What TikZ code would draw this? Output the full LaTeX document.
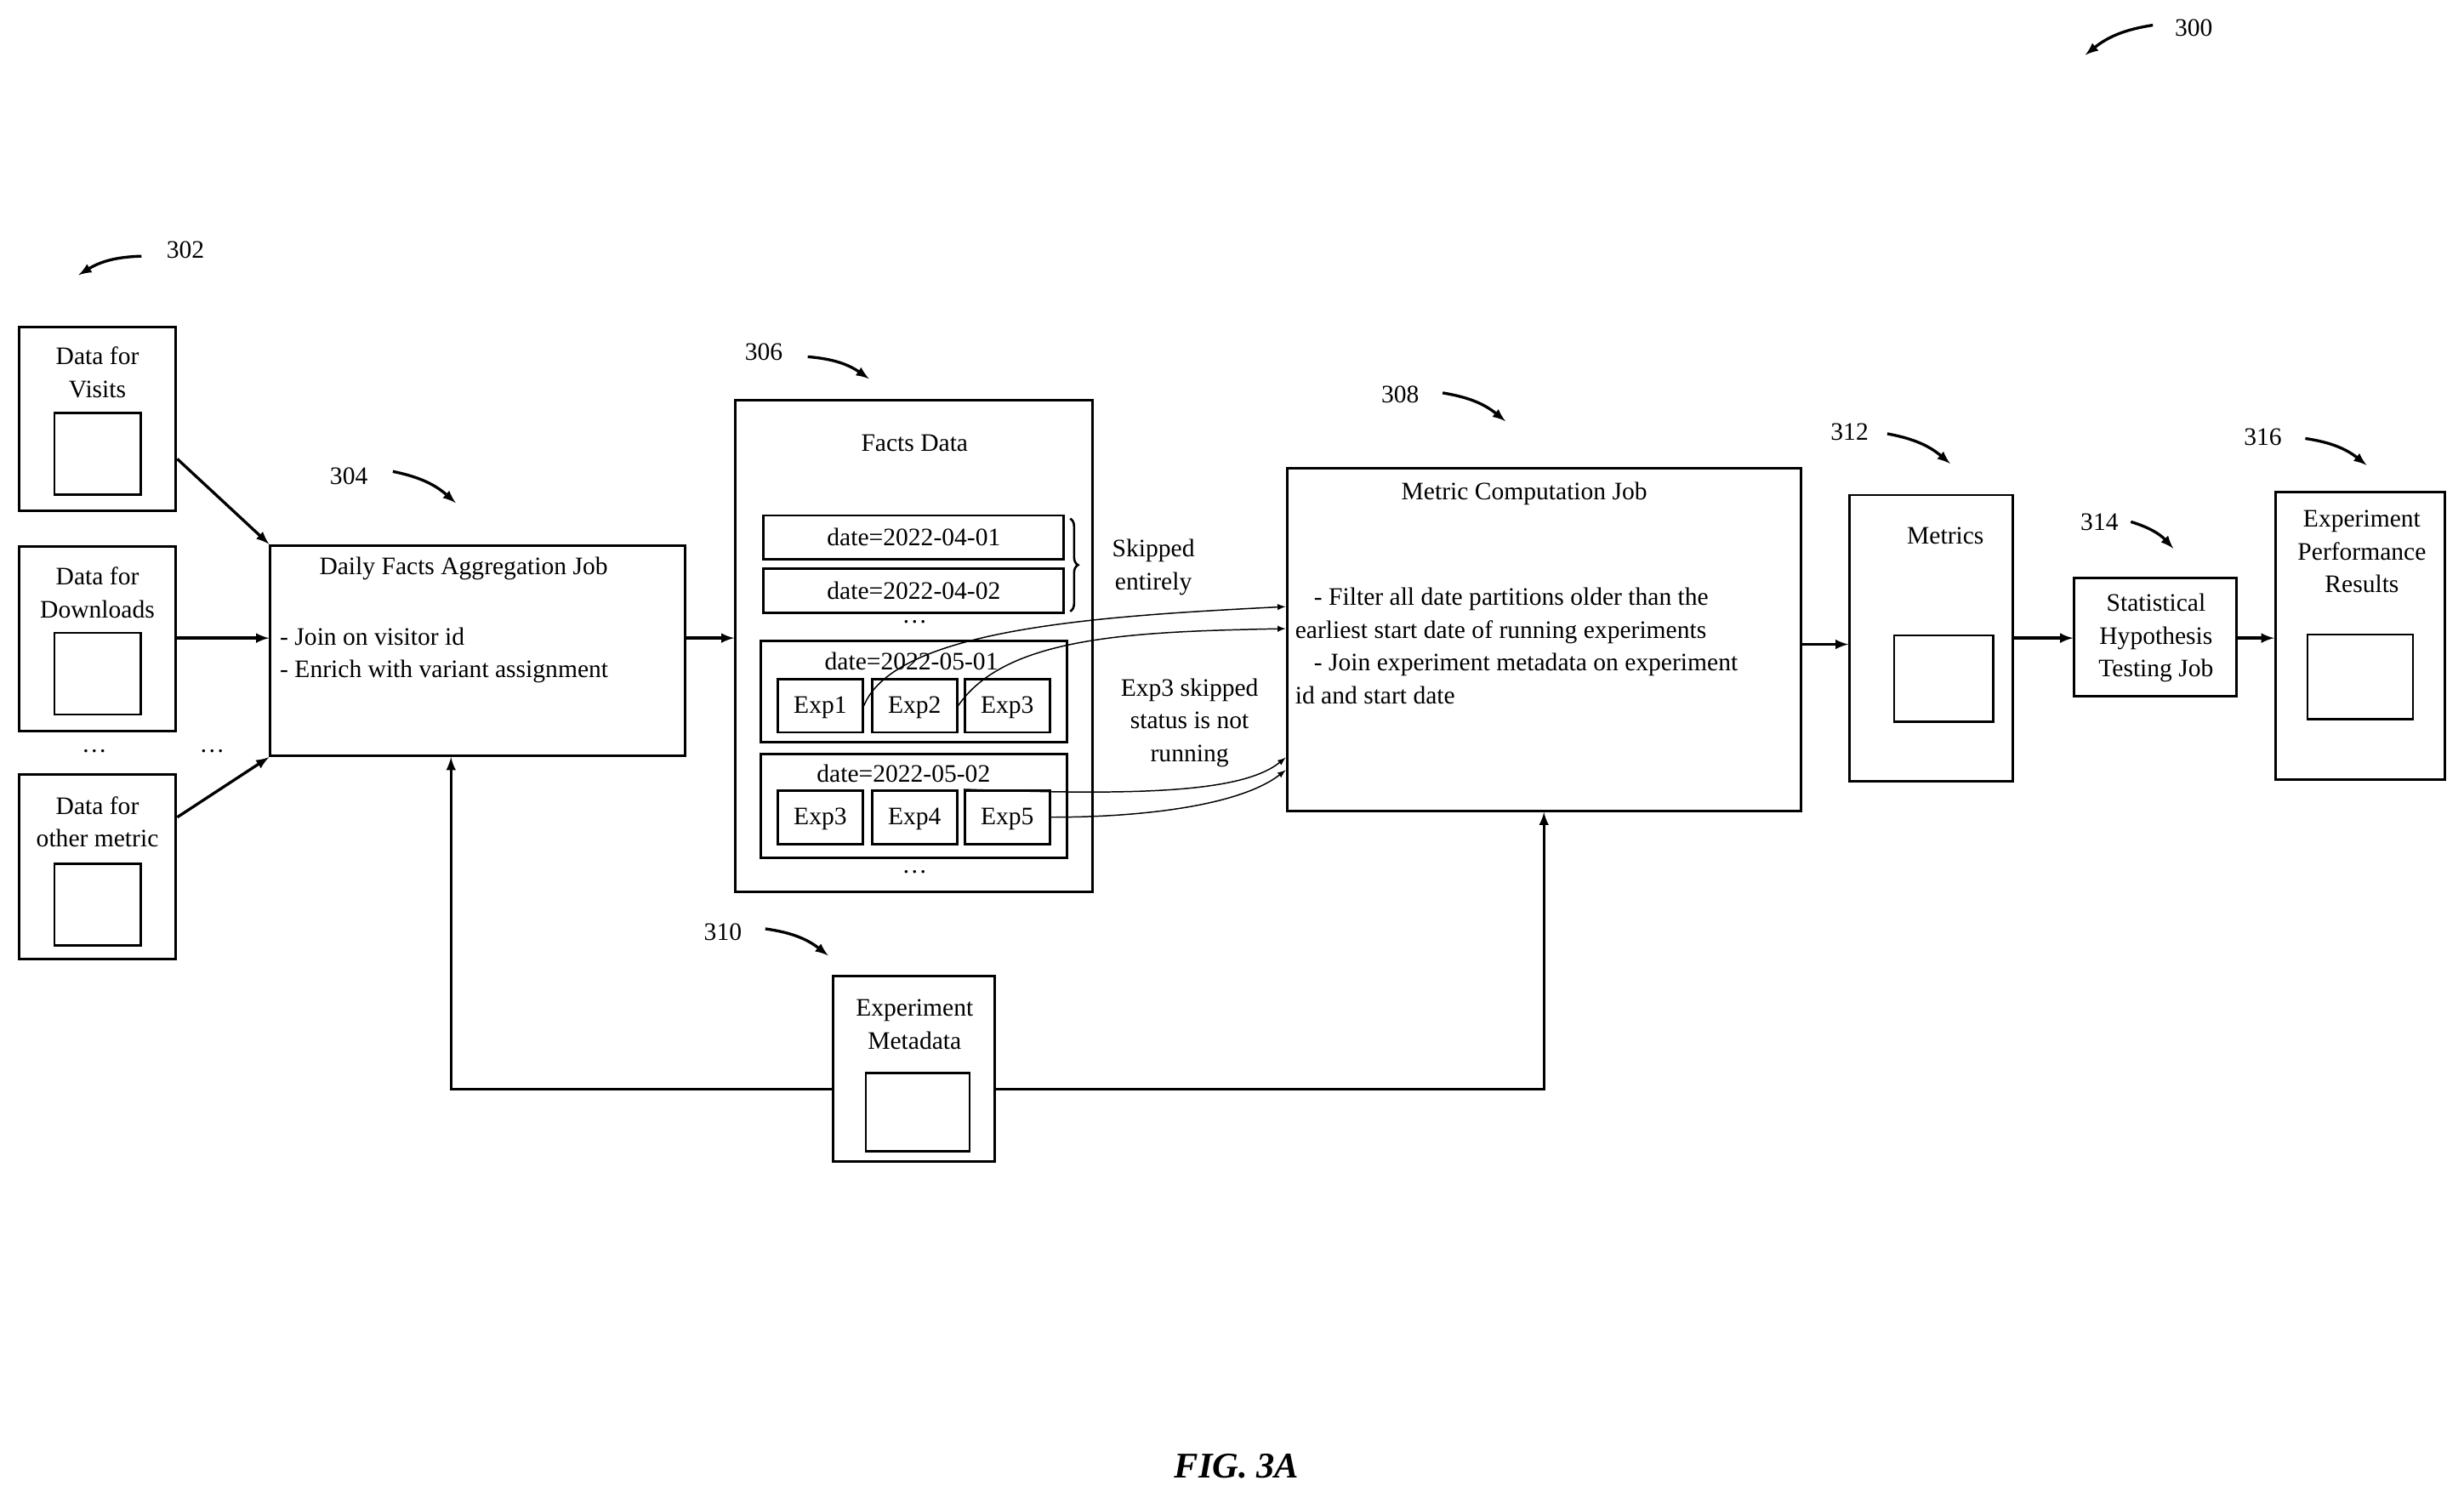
\documentclass[tikz,border=0pt]{standalone}
\usepackage{fontspec}
\setmainfont{Liberation Serif}
\usetikzlibrary{arrows,shapes.geometric,decorations.pathreplacing}

\tikzset{
  box/.style={draw,line width=1.6pt,inner sep=0pt},
  db/.style={draw,line width=1.3pt,cylinder,shape border rotate=90,aspect=3.4,
    minimum width=55pt,minimum height=52pt,inner sep=0pt},
  exp/.style={draw,line width=1.5pt,minimum width=54pt,minimum height=34pt,inner sep=0pt},
  flow/.style={->,>=latex,line width=1.8pt},
  thin/.style={->,>=latex,line width=0.8pt},
  refarr/.style={->,>=latex,line width=1.8pt},
  txt/.style={font=\fontsize{16}{21}\selectfont,align=center,inner sep=0pt}
}

\begin{document}
\begin{tikzpicture}[x=1pt,y=-1pt]
\useasboundingbox (0,0) rectangle (1568,956);

% sources
\node[box,minimum width=100pt,minimum height=117pt](visits) at (62,266.5){};
\node[txt] at (62,237){Data for\\Visits};
\node[db](visitsdb) at (62,289){};
\node[box,minimum width=100pt,minimum height=117pt](downloads) at (62,406.5){};
\node[txt] at (62,377){Data for\\Downloads};
\node[db](downloadsdb) at (62,429){};
\node[box,minimum width=100pt,minimum height=117pt](other) at (62,551.5){};
\node[txt] at (62,523){Data for\\other metric};
\node[db](otherdb) at (62,576){};
\node[txt](dotsa) at (60,478){\dots};
\node[txt](dotsb) at (135,478){\dots};

% aggregation job
\node[box,minimum width=264pt,minimum height=134pt](agg) at (304,414){};
\node[txt] at (295,362){Daily Facts Aggregation Job};
\node[txt,anchor=west,align=left] at (178,417){- Join on visitor id\\- Enrich with variant assignment};

\draw[flow] (visits.east |- 0,292) -- (agg.north west);
\draw[flow] (downloads.east |- 0,406) -- (agg.west |- 0,406);
\draw[flow] (other.east |- 0,520) -- (agg.south west);

% facts data
\node[draw,line width=1.6pt,cylinder,shape border rotate=90,aspect=4.5,
  minimum width=227pt,minimum height=313pt,inner sep=0pt](facts) at (581.5,411.5){};
\node[txt] at (582,282){Facts Data};
\node[box,minimum width=191pt,minimum height=28pt](aprA) at (581.5,342){};
\node[txt] at (581.5,342){date=2022-04-01};
\node[box,minimum width=191pt,minimum height=28pt](aprB) at (581.5,376){};
\node[txt] at (581.5,376){date=2022-04-02};
\node[txt] at (582,396){\dots};
\node[box,minimum width=195pt,minimum height=64pt](mayA) at (581.5,440){};
\node[txt] at (580,421){date=2022-05-01};
\node[exp](expA) at (522,449){};
\node[txt] at (522,450){Exp1};
\node[exp](expB) at (582,449){};
\node[txt] at (582,450){Exp2};
\node[exp](expC) at (641,449){};
\node[txt] at (641,450){Exp3};
\node[box,minimum width=195pt,minimum height=66pt](mayB) at (581.5,513){};
\node[txt] at (575,492){date=2022-05-02};
\node[exp](expD) at (522,520){};
\node[txt] at (522,521){Exp3};
\node[exp](expE) at (582,520){};
\node[txt] at (582,521){Exp4};
\node[exp](expF) at (641,520){};
\node[txt] at (641,521){Exp5};
\node[txt] at (582,555){\dots};
\draw[flow] (agg.east |- 0,406) -- (facts.west |- 0,406);

\draw[line width=1.4pt,decorate,decoration={brace,amplitude=5pt}] (681,330) -- (681,389);
\node[txt] at (734,361){Skipped\\entirely};
\node[txt] at (757,460){Exp3 skipped\\status is not\\running};

% metric computation
\node[box,minimum width=327pt,minimum height=218pt](metric) at (982.5,407){};
\node[txt] at (970,314){Metric Computation Job};
\node[txt,anchor=west,align=left] at (824,411){\ \ \ - Filter all date partitions older than the\\earliest start date of running experiments\\\ \ \ - Join experiment metadata on experiment\\id and start date};

\draw[thin] (expA.east) .. controls (570,400) and (700,392) .. (metric.west |- 0,386);
\draw[thin] (expB.east) .. controls (640,405) and (720,402) .. (metric.west |- 0,400);
\draw[thin] (expF.north west) .. controls (720,506) and (790,505) .. (metric.west |- 0,482);
\draw[thin] (expF.east) .. controls (730,520) and (790,512) .. (metric.west |- 0,490);

% metrics and results
\node[box,minimum width=104pt,minimum height=182pt](metrics) at (1229,406){};
\node[txt] at (1238,341){Metrics};
\node[db,minimum width=63pt,minimum height=55pt](metricsdb) at (1237,432){};
\node[box,minimum width=103pt,minimum height=75pt](stat) at (1371.5,405.5){};
\node[txt] at (1372,406){Statistical\\Hypothesis\\Testing Job};
\node[box,minimum width=108pt,minimum height=183pt](results) at (1502,404.5){};
\node[txt] at (1503,351){Experiment\\Performance\\Results};
\node[db,minimum width=67pt,minimum height=54pt](resultsdb) at (1502,431){};
\draw[flow] (metric.east |- 0,410) -- (metrics.west |- 0,410);
\draw[flow] (metrics.east |- 0,406) -- (stat.west |- 0,406);
\draw[flow] (stat.east |- 0,406) -- (results.west |- 0,406);

% experiment metadata
\node[box,minimum width=103pt,minimum height=118pt](meta) at (581.5,680){};
\node[txt] at (582,652){Experiment\\Metadata};
\node[db,minimum width=66pt,minimum height=50pt](metadb) at (584,708){};
\draw[flow] (meta.west |- 0,693) -| (agg.south -| 287,0);
\draw[flow] (meta.east |- 0,693) -| (metric.south);

% reference numerals
\node[txt](n300) at (1396,18){300};
\draw[refarr] (1370,16) to[bend right=15] (1327,35);
\node[txt](n302) at (118,159){302};
\draw[refarr] (90,163) to[bend right=15] (50,175);
\node[txt](n304) at (222,303){304};
\draw[refarr] (250,300) to[bend left=15] (290,320);
\node[txt](n306) at (486,224){306};
\draw[refarr] (514,227) to[bend left=15] (553,241);
\node[txt](n308) at (891,251){308};
\draw[refarr] (918,250) to[bend left=15] (958,268);
\node[txt](n310) at (460,593){310};
\draw[refarr] (487,591) to[bend left=15] (527,608);
\node[txt](n312) at (1177,275){312};
\draw[refarr] (1201,276) to[bend left=15] (1241,295);
\node[txt](n314) at (1336,332){314};
\draw[refarr] (1356,332) to[bend left=15] (1383,349);
\node[txt](n316) at (1440,278){316};
\draw[refarr] (1467,279) to[bend left=15] (1506,296);

\node[font=\fontsize{23}{26}\selectfont\bfseries\itshape](fig) at (787,933){FIG. 3A};
\end{tikzpicture}
\end{document}
